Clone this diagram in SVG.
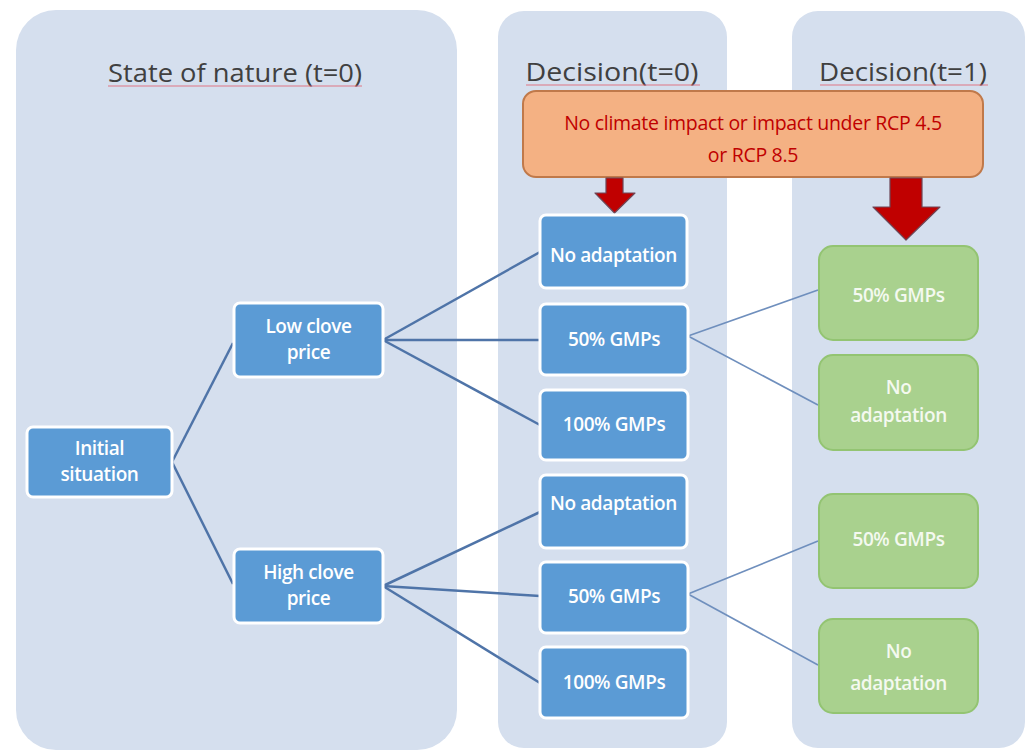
<svg xmlns="http://www.w3.org/2000/svg" width="1029" height="753" viewBox="0 0 1029 753">
  <style>
    .panel { fill: #d5dfee; }
    .title { font-family: "Open Sans", "Liberation Sans", sans-serif; font-size: 26px; fill: #404040; text-anchor: middle; }
    .squig { stroke: #e05a6a; stroke-width: 1.2; fill: none; opacity: 0.8; }
    .blue { fill: #5b9bd5; stroke: #ffffff; stroke-width: 3; }
    .green { fill: #a9d18e; stroke: #93c472; stroke-width: 2; }
    .lbl { font-family: "Open Sans", "Liberation Sans", sans-serif; font-size: 19px; font-weight: 600; fill: #ffffff; text-anchor: middle; letter-spacing: -0.4px; }
    .glbl { fill: #f4f9f0; }
    .conn { stroke: #4f74a8; stroke-width: 2.5; fill: none; }
    .conn2 { stroke: #6f8fbd; stroke-width: 1.6; fill: none; }
    .arrow { fill: #c00000; stroke: #6e4656; stroke-width: 1.2; stroke-linejoin: round; }
    .scen { font-family: "Open Sans", "Liberation Sans", sans-serif; font-size: 19.5px; fill: #c00000; text-anchor: middle; letter-spacing: -0.3px; }
  </style>

  <rect width="1029" height="753" fill="#ffffff"/>

  <!-- column panels -->
  <g id="panels">
    <rect class="panel" x="16" y="10" width="441" height="740" rx="40"/>
    <rect class="panel" x="498" y="11" width="229" height="737" rx="26"/>
    <rect class="panel" x="792" y="11" width="233" height="737" rx="26"/>
  </g>

  <!-- column titles -->
  <g id="titles">
    <text class="title" x="235" y="82" textLength="254" lengthAdjust="spacingAndGlyphs">State of nature (t=0)</text>
    <path class="squig" d="M108 86 L362 86"/>
    <text class="title" x="612" y="81" textLength="173" lengthAdjust="spacingAndGlyphs">Decision(t=0)</text>
    <path class="squig" d="M526 85 L700 85" opacity="0.4"/>
    <text class="title" x="903" y="81" textLength="168" lengthAdjust="spacingAndGlyphs">Decision(t=1)</text>
    <path class="squig" d="M820 85 L988 85" opacity="0.4"/>
  </g>

  <!-- connectors -->
  <g id="connectors">
    <path class="conn" d="M172 462 L233 343"/>
    <path class="conn" d="M172 462 L233 584"/>
    <path class="conn" d="M383 340 L540 252"/>
    <path class="conn" d="M383 340 L540 340"/>
    <path class="conn" d="M383 340 L540 425"/>
    <path class="conn" d="M383 586 L540 512"/>
    <path class="conn" d="M383 586 L540 596"/>
    <path class="conn" d="M383 586 L540 683"/>
    <path class="conn2" d="M688 336 L818 290"/>
    <path class="conn2" d="M688 336 L818 405"/>
    <path class="conn2" d="M688 594 L818 541"/>
    <path class="conn2" d="M688 594 L818 665"/>
  </g>

  <!-- climate scenario banner with arrows -->
  <g id="scenario">
    <rect x="523" y="91" width="460" height="86" rx="13" fill="#f4b183" stroke="#c0794a" stroke-width="2"/>
    <text class="scen" x="753" y="130">No climate impact or impact under RCP 4.5</text>
    <text class="scen" x="753" y="162">or RCP 8.5</text>
  </g>
  <g id="arrow-t0">
    <path class="arrow" d="M606 178 L623 178 L623 193 L635 193 L614.5 213 L595 193 L606 193 Z"/>
  </g>
  <g id="arrow-t1">
    <path class="arrow" d="M890 178 L922 178 L922 207 L940 207 L906 240 L873 207 L890 207 Z"/>
  </g>

  <!-- state of nature -->
  <g id="n-initial">
    <rect class="blue" x="27" y="427" width="145" height="70" rx="6"/>
    <text class="lbl" x="99.5" y="455">Initial</text>
    <text class="lbl" x="99.5" y="481">situation</text>
  </g>
  <g id="n-low">
    <rect class="blue" x="234" y="303" width="149" height="74" rx="6"/>
    <text class="lbl" x="308.5" y="333">Low clove</text>
    <text class="lbl" x="308.5" y="359">price</text>
  </g>
  <g id="n-high">
    <rect class="blue" x="234" y="549" width="149" height="74" rx="6"/>
    <text class="lbl" x="308.5" y="579">High clove</text>
    <text class="lbl" x="308.5" y="605">price</text>
  </g>

  <!-- decisions t=0, low price -->
  <g id="d0-low-none">
    <rect class="blue" x="540" y="215" width="147" height="73" rx="6"/>
    <text class="lbl" x="613.5" y="262">No adaptation</text>
  </g>
  <g id="d0-low-50">
    <rect class="blue" x="540" y="304" width="148" height="71" rx="6"/>
    <text class="lbl" x="614" y="346">50% GMPs</text>
  </g>
  <g id="d0-low-100">
    <rect class="blue" x="540" y="390" width="148" height="70" rx="6"/>
    <text class="lbl" x="614" y="431">100% GMPs</text>
  </g>

  <!-- decisions t=0, high price -->
  <g id="d0-high-none">
    <rect class="blue" x="540" y="475" width="147" height="73" rx="6"/>
    <text class="lbl" x="613.5" y="510">No adaptation</text>
  </g>
  <g id="d0-high-50">
    <rect class="blue" x="540" y="562" width="148" height="71" rx="6"/>
    <text class="lbl" x="614" y="603">50% GMPs</text>
  </g>
  <g id="d0-high-100">
    <rect class="blue" x="540" y="647" width="148" height="71" rx="6"/>
    <text class="lbl" x="614" y="689">100% GMPs</text>
  </g>

  <!-- decisions t=1 -->
  <g id="d1-low-50">
    <rect class="green" x="819" y="246" width="159" height="94" rx="14"/>
    <text class="lbl glbl" x="898.5" y="302">50% GMPs</text>
  </g>
  <g id="d1-low-none">
    <rect class="green" x="819" y="355" width="159" height="95" rx="14"/>
    <text class="lbl glbl" x="898.5" y="394">No</text>
    <text class="lbl glbl" x="898.5" y="422">adaptation</text>
  </g>
  <g id="d1-high-50">
    <rect class="green" x="819" y="494" width="159" height="94" rx="14"/>
    <text class="lbl glbl" x="898.5" y="546">50% GMPs</text>
  </g>
  <g id="d1-high-none">
    <rect class="green" x="819" y="619" width="159" height="94" rx="14"/>
    <text class="lbl glbl" x="898.5" y="658">No</text>
    <text class="lbl glbl" x="898.5" y="690">adaptation</text>
  </g>
</svg>
